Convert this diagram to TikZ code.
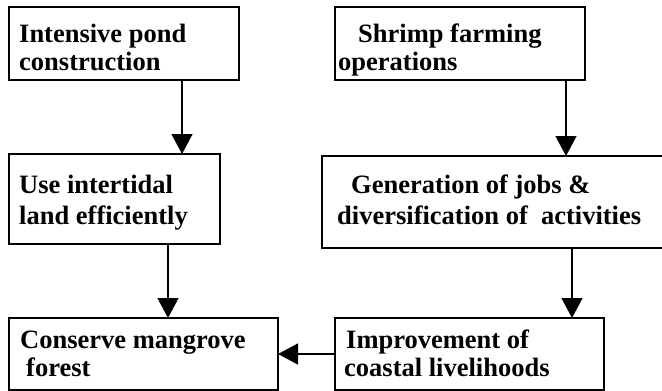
\documentclass[tikz,border=0pt]{standalone}
\usepackage{fontspec}
\setmainfont{Liberation Serif}
\usetikzlibrary{arrows.meta}
\begin{document}
\begin{tikzpicture}[x=1pt,y=-1pt,
  box/.style={draw, line width=1.3pt, inner sep=0pt, outer sep=0pt},
  lbl/.style={anchor=base west, inner sep=0pt, font=\fontsize{26.5}{28}\selectfont\bfseries},
  arr/.style={line width=1.3pt, -{Triangle[width=21pt,length=20pt]}}]
\useasboundingbox (0,0) rectangle (662,391);
\clip (0,0) rectangle (662,391);
% boxes
\node[box, minimum width=230pt, minimum height=73pt] (b1) at (124,43.5) {};
\node[box, minimum width=250pt, minimum height=73pt] (b2) at (460,43.5) {};
\node[box, minimum width=211pt, minimum height=90pt] (b3) at (114.5,199) {};
\node[box, minimum width=346pt, minimum height=92pt] (b4) at (495,202) {};
\node[box, minimum width=269pt, minimum height=72pt] (b5) at (143.5,354) {};
\node[box, minimum width=269pt, minimum height=72pt] (b6) at (469.5,354) {};
% texts
\node[lbl] (t1a) at (19,42) {Intensive pond};
\node[lbl] (t1b) at (19,70) {construction};
\node[lbl] (t2a) at (358,42) {Shrimp farming};
\node[lbl] (t2b) at (338,70) {operations};
\node[lbl] (t3a) at (19,193) {Use intertidal};
\node[lbl] (t3b) at (19,224) {land efficiently};
\node[lbl] (t4a) at (351,193) {Generation of jobs \&};
\node[lbl] (t4b) at (337,224) {diversification of\ \ activities};
\node[lbl] (t5a) at (20,348) {Conserve mangrove};
\node[lbl] (t5b) at (26,376) {forest};
\node[lbl] (t6a) at (346,348) {Improvement of};
\node[lbl] (t6b) at (344,376) {coastal livelihoods};
% arrows
\draw[arr] ([xshift=173pt]b1.south west) -- ([xshift=173pt]b1.south west |- b3.north);
\draw[arr] ([xshift=231pt]b2.south west) -- ([xshift=231pt]b2.south west |- b4.north);
\draw[arr] ([xshift=159pt]b3.south west) -- ([xshift=159pt]b3.south west |- b5.north);
\draw[arr] ([xshift=250pt]b4.south west) -- ([xshift=250pt]b4.south west |- b6.north);
\draw[arr] (b6.west) -- (b5.east);
\end{tikzpicture}
\end{document}
